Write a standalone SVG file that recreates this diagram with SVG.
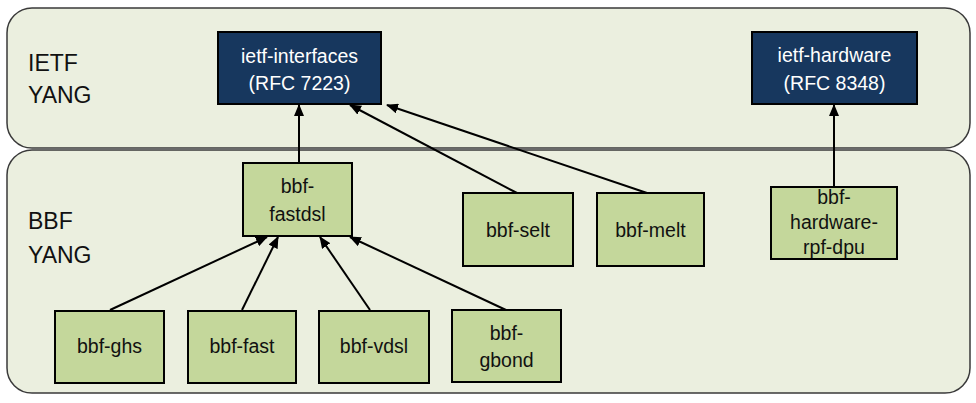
<svg xmlns="http://www.w3.org/2000/svg" width="976" height="403" viewBox="0 0 976 403">
<style>
.panel{fill:#EBEFDF;stroke:#3a3a3a;stroke-width:1.5}
.ietf{fill:#17375E;stroke:#000;stroke-width:2}
.bbf{fill:#C4D79B;stroke:#000;stroke-width:2}
.lbl{font-family:"Liberation Sans",Arial,sans-serif;font-size:23px;fill:#111}
.wt{font-family:"Liberation Sans",Arial,sans-serif;font-size:19.5px;fill:#fff;text-anchor:middle}
.bt{font-family:"Liberation Sans",Arial,sans-serif;font-size:19.5px;fill:#111;text-anchor:middle}
.conn line{stroke:#000;stroke-width:2;marker-end:url(#ah)}
</style>
<defs>
<marker id="ah" markerWidth="12" markerHeight="10" refX="11" refY="5" orient="auto" markerUnits="userSpaceOnUse">
<path d="M0,0 L12,5 L0,10 z" fill="#000"/>
</marker>
</defs>
<rect width="976" height="403" fill="#fff"/>
<g id="panel-ietf">
<rect class="panel" x="7" y="8" width="963" height="140" rx="25" ry="25"/>
<text class="lbl" x="28" y="71">IETF</text>
<text class="lbl" x="28" y="103">YANG</text>
</g>
<g id="panel-bbf">
<rect class="panel" x="7" y="150" width="963" height="243" rx="25" ry="25"/>
<text class="lbl" x="28" y="229">BBF</text>
<text class="lbl" x="28" y="263">YANG</text>
</g>
<g class="conn" id="connectors">
<line x1="299" y1="163" x2="299" y2="105"/>
<line x1="517" y1="193" x2="350" y2="105"/>
<line x1="647" y1="193" x2="387" y2="105"/>
<line x1="834" y1="187" x2="834" y2="105"/>
<line x1="110" y1="310" x2="267" y2="237"/>
<line x1="242" y1="310" x2="278" y2="237"/>
<line x1="370" y1="310" x2="320" y2="237"/>
<line x1="506" y1="310" x2="350" y2="237"/>
</g>
<g id="ietf-interfaces">
<rect class="ietf" x="218" y="32" width="163" height="72"/>
<text class="wt" x="299.5" y="63">ietf-interfaces</text>
<text class="wt" x="299.5" y="90">(RFC 7223)</text>
</g>
<g id="ietf-hardware">
<rect class="ietf" x="752" y="32" width="165" height="72"/>
<text class="wt" x="834.5" y="62">ietf-hardware</text>
<text class="wt" x="834.5" y="90">(RFC 8348)</text>
</g>
<g id="bbf-fastdsl">
<rect class="bbf" x="243" y="163" width="109" height="73"/>
<text class="bt" x="297.5" y="193">bbf-</text>
<text class="bt" x="297.5" y="221">fastdsl</text>
</g>
<g id="bbf-selt">
<rect class="bbf" x="463" y="193" width="110" height="73"/>
<text class="bt" x="518" y="237">bbf-selt</text>
</g>
<g id="bbf-melt">
<rect class="bbf" x="597" y="193" width="107" height="73"/>
<text class="bt" x="650.5" y="237">bbf-melt</text>
</g>
<g id="bbf-hardware-rpf-dpu">
<rect class="bbf" x="771" y="187" width="126" height="72"/>
<text class="bt" x="834" y="204">bbf-</text>
<text class="bt" x="834" y="229">hardware-</text>
<text class="bt" x="834" y="254">rpf-dpu</text>
</g>
<g id="bbf-ghs">
<rect class="bbf" x="55" y="311" width="109" height="72"/>
<text class="bt" x="109.5" y="353">bbf-ghs</text>
</g>
<g id="bbf-fast">
<rect class="bbf" x="188" y="311" width="108" height="72"/>
<text class="bt" x="242" y="353">bbf-fast</text>
</g>
<g id="bbf-vdsl">
<rect class="bbf" x="319" y="311" width="110" height="72"/>
<text class="bt" x="374" y="353">bbf-vdsl</text>
</g>
<g id="bbf-gbond">
<rect class="bbf" x="452" y="310" width="109" height="72"/>
<text class="bt" x="506.5" y="340">bbf-</text>
<text class="bt" x="506.5" y="367">gbond</text>
</g>
</svg>
